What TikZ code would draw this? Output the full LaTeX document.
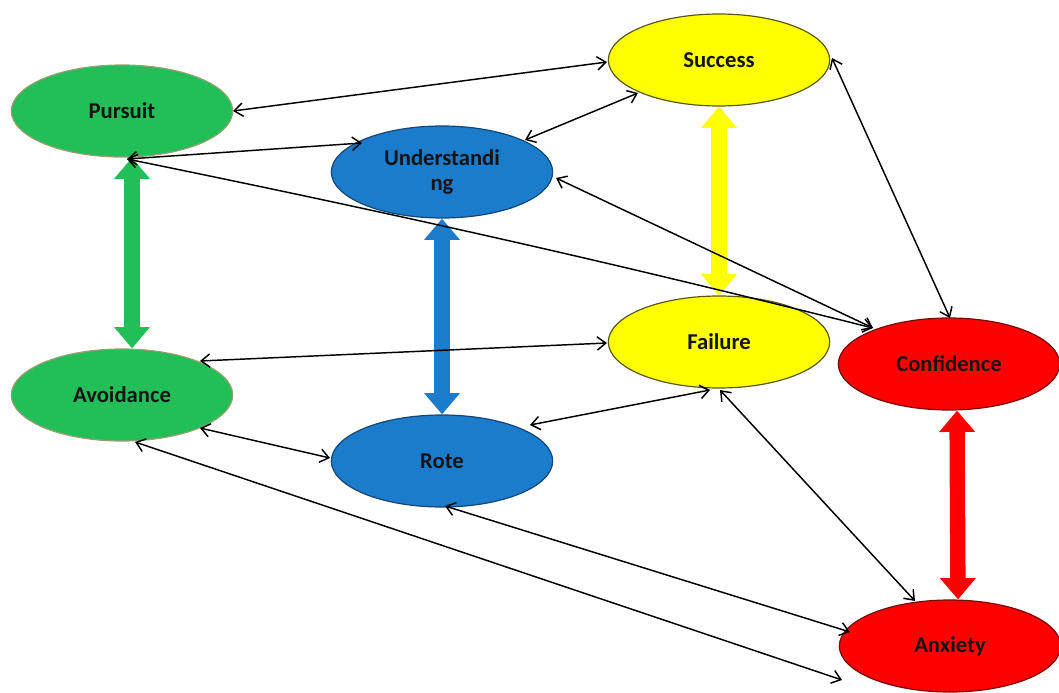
\documentclass[tikz,border=0pt]{standalone}
\usepackage{fontspec}
\setmainfont{Carlito}
\usetikzlibrary{arrows.meta,shapes.geometric}
\definecolor{cgreen}{RGB}{34,190,88}
\definecolor{cgreenrim}{RGB}{150,160,110}
\definecolor{cblue}{RGB}{28,124,204}
\definecolor{cbluerim}{RGB}{20,70,120}
\definecolor{cyellow}{RGB}{255,255,0}
\definecolor{cyellowrim}{RGB}{90,90,20}
\definecolor{cred}{RGB}{255,0,0}
\definecolor{credrim}{RGB}{120,10,10}
\definecolor{ink}{RGB}{20,20,20}
\begin{document}
\begin{tikzpicture}[x=0.75pt,y=-0.75pt,
  bubble/.style={ellipse,minimum width=166pt,minimum height=69pt,inner sep=0pt,
    font=\bfseries\fontsize{17}{19}\selectfont,text=ink,align=center,line width=0.9pt},
  gbub/.style={bubble,fill=cgreen,draw=cgreenrim},
  bbub/.style={bubble,fill=cblue,draw=cbluerim},
  ybub/.style={bubble,fill=cyellow,draw=cyellowrim},
  rbub/.style={bubble,fill=cred,draw=credrim},
  link/.style={line width=1.1pt,{Straight Barb[length=6.5pt,width=10pt]}-{Straight Barb[length=6.5pt,width=10pt]}},
  fat/.style={line width=11.5pt,{Triangle[length=16pt,width=26pt]}-{Triangle[length=16pt,width=26pt]}}
]
\useasboundingbox (0,0) rectangle (1059,692);

% concept bubbles
\node[gbub] (pur) at (122,111) {Pursuit};
\node[gbub] (avo) at (122,395) {Avoidance};
\node[bbub] (und) at (442,172) {Understandi\\ng};
\node[bbub] (rot) at (442,461) {Rote};
\node[ybub] (suc) at (719,60) {Success};
\node[ybub] (fai) at (719,342) {Failure};
\node[rbub] (con) at (949,364) {Confidence};
\node[rbub] (anx) at (950,646) {Anxiety};

% opposing pairs
\draw[fat,draw=cgreen,fill=cgreen] ([xshift=7.5pt]pur.south) -- ([xshift=7.5pt]avo.north);
\draw[fat,draw=cblue,fill=cblue] (und.south) -- (rot.north);
\draw[fat,draw=cyellow,fill=cyellow] (suc.south) -- (fai.north);
\draw[fat,draw=cred,fill=cred] ([xshift=6pt]con.south) -- ([xshift=6pt]anx.north);

% coordinates where the thin links meet the bubbles
\coordinate (purE) at (233,111);
\coordinate (purS) at (127,159);
\coordinate (undW) at (362,143);
\coordinate (undNE) at (525,140);
\coordinate (undE) at (556,178);
\coordinate (sucW) at (607,62);
\coordinate (sucSW) at (638,93);
\coordinate (sucE) at (832,58);
\coordinate (conNW) at (873,328);
\coordinate (conN) at (950,318);
\coordinate (avoNE) at (200,361);
\coordinate (avoSE) at (200,428);
\coordinate (avoS) at (135,442);
\coordinate (faiW) at (607,343);
\coordinate (faiS) at (710,390);
\coordinate (faiS2) at (720,390);
\coordinate (rotW) at (330,458);
\coordinate (rotNE) at (530,425);
\coordinate (rotS) at (445,506);
\coordinate (anxNW) at (850,632);
\coordinate (anxW) at (842,680);
\coordinate (anxN) at (915,601);

% thin two-way links
\draw[link] (purE) -- (sucW);
\draw[link] (purS) -- (undW);
\draw[link] (purS) .. controls (500,235) and (700,285) .. (conNW);
\draw[link] (undNE) -- (sucSW);
\draw[link] (undE) -- (conNW);
\draw[link] (sucE) -- (conN);
\draw[link] (avoNE) -- (faiW);
\draw[link] (avoSE) -- (rotW);
\draw[link] (avoS) -- (anxW);
\draw[link] (rotNE) -- (faiS);
\draw[link] (rotS) -- (anxNW);
\draw[link] (faiS2) -- (anxN);
\end{tikzpicture}
\end{document}
